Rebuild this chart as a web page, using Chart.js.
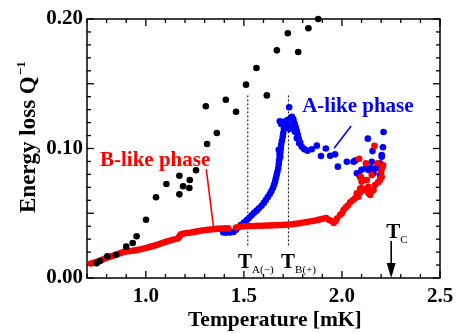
<!DOCTYPE html>
<html><head><meta charset="utf-8">
<script src="https://cdn.jsdelivr.net/npm/chart.js@4.4.1/dist/chart.umd.min.js"></script>
<style>html,body{margin:0;padding:0;background:#fff;}#wrap{width:463px;height:333px;}</style>
</head><body><div id="wrap"><canvas id="c" width="463" height="333"></canvas></div>
<script>
// ---------- tick labels ----------
const xTicks = [1.0, 1.5, 2.0, 2.5];
const xTickLabels = ['1.0', '1.5', '2.0', '2.5'];
const yTicks = [0.0, 0.1, 0.2];
const yTickLabels = ['0.00', '0.10', '0.20'];
const xMinorStep = 0.1, yMinorStep = 0.01;

// ---------- black series ----------
const blackT = [0.749,0.766,0.804,0.848,0.900,0.933,0.953,1.001,1.052,1.105,1.171,1.171,1.190,1.222,1.224,1.256,1.306,1.312,1.362,1.408,1.460,1.511,1.564,1.617,1.668,1.724,1.777,1.829,1.879];
const blackQ = [0.0114,0.0131,0.0167,0.0180,0.0242,0.0270,0.0322,0.0450,0.0623,0.0726,0.0790,0.0646,0.0708,0.0695,0.0757,0.0832,0.1326,0.1035,0.1120,0.1377,0.1284,0.1493,0.1622,0.1410,0.1758,0.1890,0.1745,0.1928,0.2000];

// ---------- red series (B-like phase) ----------
const redT = [0.720,0.735,0.750,0.765,0.780,0.795,0.810,0.825,0.840,0.855,0.870,0.885,0.900,0.915,0.930,0.945,0.960,0.975,0.990,1.005,
1.020,1.035,1.050,1.065,1.080,1.095,1.110,1.125,1.140,1.160,1.168,1.172,1.176,1.182,1.195,1.210,1.225,1.240,1.255,1.270,
1.285,1.300,1.315,1.330,1.345,1.360,1.375,1.390,1.405,1.420,1.460,1.475,1.490,1.505,1.520,1.535,1.550,1.565,1.580,1.595,
1.610,1.625,1.640,1.655,1.670,1.685,1.700,1.715,1.730,1.745,1.760,1.775,1.790,1.805,1.820,1.835,1.850,1.865,1.880,1.895,
1.910,1.920,1.935,1.948,1.958,1.968,1.975,1.990,2.000,2.008,2.020,2.030,2.042,2.055,2.067,2.076,2.084,2.095,2.100,2.110,
2.118,2.127,2.135,2.144,2.152,2.161,2.076,2.093,2.096,2.100,2.110,2.127,2.135,2.152,2.170,2.185,2.195,2.203,2.195,2.200,
2.205,2.210,2.181,2.122,2.088,2.166];
const redQ = [0.0112,0.0118,0.0125,0.0132,0.0142,0.0152,0.0160,0.0167,0.0175,0.0183,0.0192,0.0200,0.0205,0.0207,0.0210,0.0213,0.0218,0.0222,0.0228,0.0234,
0.0240,0.0246,0.0252,0.0260,0.0268,0.0276,0.0283,0.0290,0.0297,0.0303,0.0312,0.0322,0.0332,0.0340,0.0343,0.0347,0.0350,0.0354,0.0358,0.0362,
0.0366,0.0369,0.0372,0.0375,0.0377,0.0379,0.0381,0.0382,0.0383,0.0384,0.0390,0.0395,0.0398,0.0400,0.0401,0.0402,0.0402,0.0403,0.0403,0.0404,
0.0405,0.0405,0.0406,0.0407,0.0408,0.0409,0.0410,0.0411,0.0413,0.0415,0.0418,0.0421,0.0424,0.0428,0.0432,0.0436,0.0440,0.0444,0.0449,0.0455,
0.0460,0.0463,0.0448,0.0440,0.0425,0.0440,0.0460,0.0486,0.0500,0.0525,0.0545,0.0560,0.0585,0.0600,0.0615,0.0640,0.0628,0.0665,0.0693,0.0680,
0.0680,0.0690,0.0654,0.0641,0.0667,0.0680,0.0654,0.0690,0.0780,0.0744,0.0757,0.0757,0.0705,0.0795,0.0720,0.0740,0.0757,0.0782,0.0770,0.0820,
0.0850,0.0870,0.0886,0.0886,0.0920,0.1020];

// ---------- blue series (A-like phase) ----------
const blueT = [1.395,1.410,1.430,1.447,1.460,1.472,1.485,1.500,1.515,1.527,1.540,1.552,1.565,1.577,1.590,1.602,1.612,1.622,1.632,1.640,
1.648,1.654,1.659,1.663,1.667,1.671,1.675,1.678,1.680,1.683,1.686,1.688,1.690,1.694,1.698,1.701,1.704,1.708,1.714,1.722,
1.731,1.738,1.745,1.752,1.758,1.764,1.770,1.775,1.780,1.787,1.795,1.808,1.824,1.846,1.872,1.893,1.918,1.940,1.965,1.979,
2.025,2.059,2.067,2.076,2.084,2.093,2.100,2.120,2.132,2.135,2.145,2.152,2.156,2.161,2.170,2.186,2.190,2.195,2.195,2.203,
2.203,2.209,2.212,1.678,1.682,1.685,1.700,1.690,1.683,1.740,1.750,1.733,1.760,1.770,1.782];
const blueQ = [0.0352,0.0350,0.0352,0.0356,0.0372,0.0390,0.0408,0.0428,0.0448,0.0465,0.0485,0.0503,0.0520,0.0538,0.0558,0.0580,0.0602,0.0625,0.0648,0.0670,
0.0695,0.0720,0.0744,0.0770,0.0795,0.0820,0.0850,0.0880,0.0910,0.0940,0.0970,0.1000,0.1030,0.1060,0.1090,0.1120,0.1150,0.1180,0.1205,0.1220,
0.1318,0.1235,0.1245,0.1225,0.1195,0.1165,0.1135,0.1105,0.1075,0.1045,0.1014,0.0995,0.0983,0.0994,0.1022,0.0942,0.1000,0.0944,0.0955,0.0860,
0.0898,0.0898,0.0906,0.0808,0.0808,0.0780,0.0835,0.0847,0.1076,0.0834,0.0850,0.0898,0.0980,0.0808,0.0847,0.0847,0.0870,0.0886,0.0795,0.0937,
0.0950,0.1010,0.1127,0.0990,0.0960,0.0935,0.1207,0.1190,0.1210,0.1180,0.1160,0.1150,0.1130,0.1080,0.1040];

// ---------- annotation geometry in data units ----------
const tA = 1.52, tB = 1.727, markerQ = [0.141, 0.024];
const blueLeader = {T: [2.047, 1.960], Q: [0.1174, 0.1002]};
const redLeader = {T: [1.308, 1.345], Q: [0.0840, 0.0395]};
const tcT = 2.251, tcQ = [0.0286, 0.0];
const textNotes = [
  {text: 'A-like phase', T: 1.797, Q: 0.1282, color: '#0000ff', font: 'bold 21px "Liberation Serif"'},
  {text: 'B-like phase', T: 0.7663, Q: 0.0865, color: '#ff0000', font: 'bold 21px "Liberation Serif"'}
];
const tempNotes = [
  {sub: 'A(\u2212)', T: 1.4704, Q: 0.0077},
  {sub: 'B(+)', T: 1.6898, Q: 0.0077},
  {sub: 'C', T: 2.2255, Q: 0.0309}
];

const zip = (a, b) => a.map((v, i) => ({x: v, y: b[i]}));
const seg = (ta, qa) => ta.map((v, i) => ({x: v, y: qa[i]}));

function drawTicks(chart) {
  const ctx = chart.ctx, a = chart.chartArea, xs = chart.scales.x, ys = chart.scales.y;
  ctx.save();
  ctx.fillStyle = '#000';
  const nx = Math.round((xs.max - xs.min) / xMinorStep);
  for (let i = 0; i <= nx; i++) {
    const v = xs.min + i * xMinorStep;
    const px = xs.getPixelForValue(v);
    const major = Math.abs(v * 2 - Math.round(v * 2)) < 1e-6;
    const L = major ? 7 : 4;
    ctx.fillRect(px - 0.65, a.bottom - L, 1.3, L);
    ctx.fillRect(px - 0.65, a.top, 1.3, L);
  }
  const ny = Math.round((ys.max - ys.min) / yMinorStep);
  for (let i = 0; i <= ny; i++) {
    const py = ys.getPixelForValue(ys.min + i * yMinorStep);
    const L = (i % 5 === 0) ? 7 : 4;
    ctx.fillRect(a.left, py - 0.65, L, 1.3);
    ctx.fillRect(a.right - L, py - 0.65, L, 1.3);
  }
  ctx.lineWidth = 1.5;
  ctx.strokeStyle = '#000';
  ctx.strokeRect(a.left, a.top, a.right - a.left, a.bottom - a.top);
  ctx.restore();
}

const decor = {
  id: 'decor',
  beforeDatasetsDraw(chart) { drawTicks(chart); },
  afterDatasetsDraw(chart) {
    const ctx = chart.ctx, xs = chart.scales.x, ys = chart.scales.y;
    ctx.save();
    ctx.textBaseline = 'alphabetic';
    ctx.textAlign = 'left';
    textNotes.forEach(n => {
      ctx.font = n.font; ctx.fillStyle = n.color;
      ctx.fillText(n.text, xs.getPixelForValue(n.T), ys.getPixelForValue(n.Q));
    });
    ctx.fillStyle = '#000';
    tempNotes.forEach(n => {
      const px = xs.getPixelForValue(n.T), py = ys.getPixelForValue(n.Q);
      ctx.font = 'bold 21px "Liberation Serif"';
      ctx.fillText('T', px, py);
      const w = ctx.measureText('T').width;
      ctx.font = '11px "Liberation Serif"';
      ctx.fillText(n.sub, px + w, py + 5);
    });
    const ax = xs.getPixelForValue(tcT), tip = ys.getPixelForValue(tcQ[1]);
    ctx.beginPath();
    ctx.moveTo(ax, tip); ctx.lineTo(ax - 4.5, tip - 15); ctx.lineTo(ax + 4.5, tip - 15); ctx.closePath();
    ctx.fill();
    ctx.font = 'bold 21.5px "Liberation Serif"';
    ctx.fillText('Temperature [mK]', 188, 326);
    ctx.translate(35, 213);
    ctx.rotate(-Math.PI / 2);
    ctx.font = 'bold 23px "Liberation Serif"';
    ctx.fillText('Energy loss Q', 0, 0);
    const w = ctx.measureText('Energy loss Q').width;
    ctx.font = 'bold 13px "Liberation Serif"';
    ctx.fillText('\u22121', w + 1, -10);
    ctx.restore();
  }
};

const lineDs = (data, color, width, dash, order) => ({
  type: 'line', data, borderColor: color, borderWidth: width, borderDash: dash,
  pointRadius: 0, fill: false, order, clip: false
});

new Chart(document.getElementById('c'), {
  type: 'scatter',
  data: {
    datasets: [
      {data: zip(blackT, blackQ), backgroundColor: '#000', borderWidth: 0, pointRadius: 3.3, order: 0, clip: false},
      {data: zip(redT, redQ), backgroundColor: '#ff0000', borderWidth: 0, pointRadius: 3.3, order: 1},
      {data: zip(blueT, blueQ), backgroundColor: '#0000ff', borderWidth: 0, pointRadius: 3.3, order: 2},
      lineDs(seg([tA, tA], markerQ), '#000', 1, [2, 2], 3),
      lineDs(seg([tB, tB], markerQ), '#000', 1, [2, 2], 3),
      lineDs(seg(blueLeader.T, blueLeader.Q), '#0000ff', 1.6, [], 0),
      lineDs(seg(redLeader.T, redLeader.Q), '#ff0000', 1.6, [], 0),
      lineDs(seg([tcT, tcT], [tcQ[0], 0.008]), '#000', 1.6, [], 0)
    ]
  },
  options: {
    responsive: false, animation: false, devicePixelRatio: 1, events: [],
    layout: {padding: {top: 19, right: 23, left: 0, bottom: 0}},
    plugins: {legend: {display: false}, tooltip: {enabled: false}},
    scales: {
      x: {
        type: 'linear', min: 0.7, max: 2.5,
        afterFit(s) { s.height = 55; },
        afterBuildTicks(s) { s.ticks = xTicks.map(v => ({value: v})); },
        ticks: {
          callback: v => { const k = xTicks.indexOf(v); return k >= 0 ? xTickLabels[k] : ''; },
          font: {family: '"Liberation Serif"', size: 21, weight: 'bold'}, color: '#000',
          padding: 6, maxRotation: 0, autoSkip: false
        },
        grid: {display: false, drawTicks: false}, border: {display: false}
      },
      y: {
        type: 'linear', min: 0, max: 0.2,
        afterFit(s) { s.width = 87; },
        afterBuildTicks(s) { s.ticks = yTicks.map(v => ({value: v})); },
        ticks: {
          callback: v => { const k = yTicks.indexOf(v); return k >= 0 ? yTickLabels[k] : ''; },
          font: {family: '"Liberation Serif"', size: 21, weight: 'bold'}, color: '#000',
          padding: 4, autoSkip: false
        },
        grid: {display: false, drawTicks: false}, border: {display: false}
      }
    }
  },
  plugins: [decor]
});
</script>
</body></html>
